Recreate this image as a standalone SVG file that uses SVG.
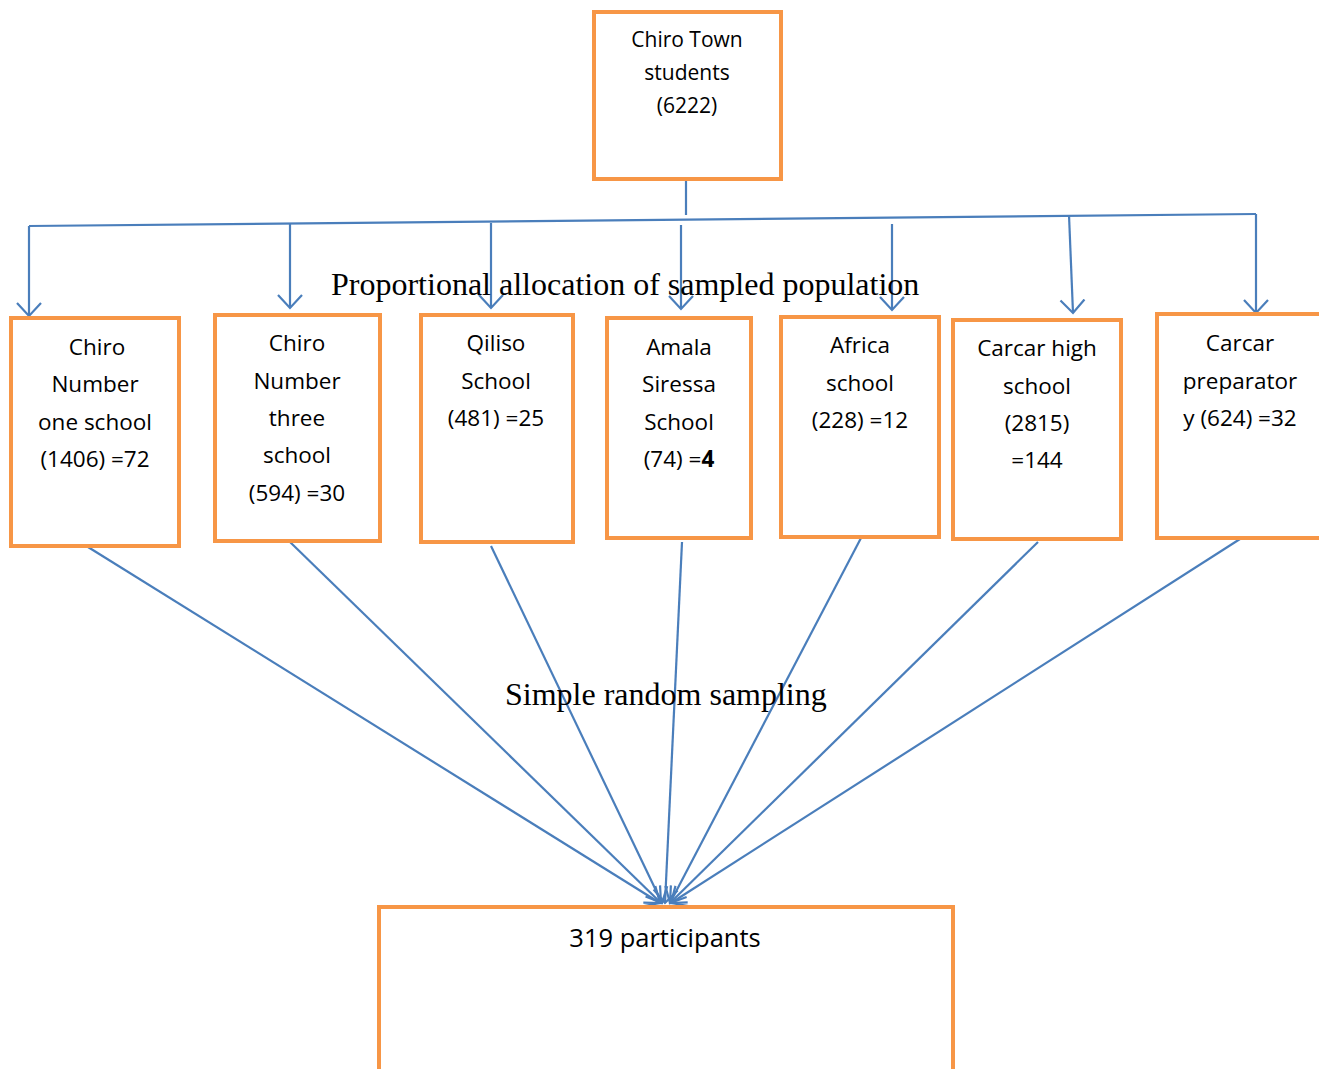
<svg xmlns="http://www.w3.org/2000/svg" width="1319" height="1069" viewBox="0 0 1319 1069">
<style>
.box{fill:#fff;stroke:#F79646;stroke-width:4}
.t{font-family:"Open Sans","Liberation Sans",sans-serif;font-size:22.5px;fill:#000;text-anchor:middle}
.tt{font-size:21px}
.tb{font-size:25.5px}
.s{font-family:"Liberation Serif",serif;font-size:32px;fill:#000}
.c{fill:none;stroke:#4A7EBB;stroke-width:2.2}
</style>
<defs>
<marker id="ah" markerWidth="28" markerHeight="28" refX="14" refY="14" orient="auto" markerUnits="userSpaceOnUse" viewBox="0 0 28 28">
<path d="M1,2 L14,14 L1,26" fill="none" stroke="#4A7EBB" stroke-width="2.2"/>
</marker>
</defs>
<rect width="1319" height="1069" fill="#fff"/>
<g id="connectors">
<line class="c" x1="686" y1="180" x2="686" y2="215"/>
<line class="c" x1="29" y1="226" x2="1256" y2="214"/>
<line class="c" x1="29" y1="226" x2="29" y2="316" marker-end="url(#ah)"/>
<line class="c" x1="290" y1="224" x2="290" y2="308" marker-end="url(#ah)"/>
<line class="c" x1="491" y1="223" x2="491" y2="308" marker-end="url(#ah)"/>
<line class="c" x1="681" y1="225" x2="681" y2="309" marker-end="url(#ah)"/>
<line class="c" x1="892" y1="224" x2="892" y2="310" marker-end="url(#ah)"/>
<line class="c" x1="1069" y1="215" x2="1073" y2="313" marker-end="url(#ah)"/>
<line class="c" x1="1256" y1="214" x2="1256" y2="313" marker-end="url(#ah)"/>
<line class="c" x1="88" y1="547" x2="660" y2="903" marker-end="url(#ah)"/>
<line class="c" x1="290" y1="542" x2="661" y2="903" marker-end="url(#ah)"/>
<line class="c" x1="491" y1="546" x2="662" y2="903" marker-end="url(#ah)"/>
<line class="c" x1="682" y1="542" x2="665" y2="903" marker-end="url(#ah)"/>
<line class="c" x1="861" y1="538" x2="670" y2="903" marker-end="url(#ah)"/>
<line class="c" x1="1038" y1="542" x2="670" y2="903" marker-end="url(#ah)"/>
<line class="c" x1="1240" y1="539" x2="671" y2="903" marker-end="url(#ah)"/>
</g>
<g id="top">
<rect class="box" x="594" y="12" width="187" height="167"/>
<text class="t tt" x="687" y="47">Chiro Town</text>
<text class="t tt" x="687" y="80">students</text>
<text class="t tt" x="687" y="113">(6222)</text>
</g>
<g id="n1">
<rect class="box" x="11" y="318" width="168" height="228"/>
<text class="t" x="97" y="355">Chiro</text>
<text class="t" x="95" y="392">Number</text>
<text class="t" x="95" y="430">one school</text>
<text class="t" x="95" y="467">(1406) =72</text>
</g>
<g id="n2">
<rect class="box" x="215" y="315" width="165" height="226"/>
<text class="t" x="297" y="351">Chiro</text>
<text class="t" x="297" y="389">Number</text>
<text class="t" x="297" y="426">three</text>
<text class="t" x="297" y="463">school</text>
<text class="t" x="297" y="501">(594) =30</text>
</g>
<g id="n3">
<rect class="box" x="421" y="315" width="152" height="227"/>
<text class="t" x="496" y="351">Qiliso</text>
<text class="t" x="496" y="389">School</text>
<text class="t" x="496" y="426">(481) =25</text>
</g>
<g id="n4">
<rect class="box" x="607" y="318" width="144" height="220"/>
<text class="t" x="679" y="355">Amala</text>
<text class="t" x="679" y="392">Siressa</text>
<text class="t" x="679" y="430">School</text>
<text class="t" x="679" y="467">(74) =<tspan font-weight="bold">4</tspan></text>
</g>
<g id="n5">
<rect class="box" x="781" y="317" width="158" height="220"/>
<text class="t" x="860" y="353">Africa</text>
<text class="t" x="860" y="391">school</text>
<text class="t" x="860" y="428">(228) =12</text>
</g>
<g id="n6">
<rect class="box" x="953" y="320" width="168" height="219"/>
<text class="t" x="1037" y="356">Carcar high</text>
<text class="t" x="1037" y="394">school</text>
<text class="t" x="1037" y="431">(2815)</text>
<text class="t" x="1037" y="468">=144</text>
</g>
<g id="n7">
<rect class="box" x="1157" y="314" width="170" height="224"/>
<text class="t" x="1240" y="351">Carcar</text>
<text class="t" x="1240" y="389">preparator</text>
<text class="t" x="1240" y="426">y (624) =32</text>
</g>
<g id="bottom">
<rect class="box" x="379" y="907" width="574" height="170"/>
<text class="t tb" x="665" y="947">319 participants</text>
</g>
<text class="s" x="331" y="295">Proportional allocation of sampled population</text>
<text class="s" x="505" y="705">Simple random sampling</text>
</svg>
